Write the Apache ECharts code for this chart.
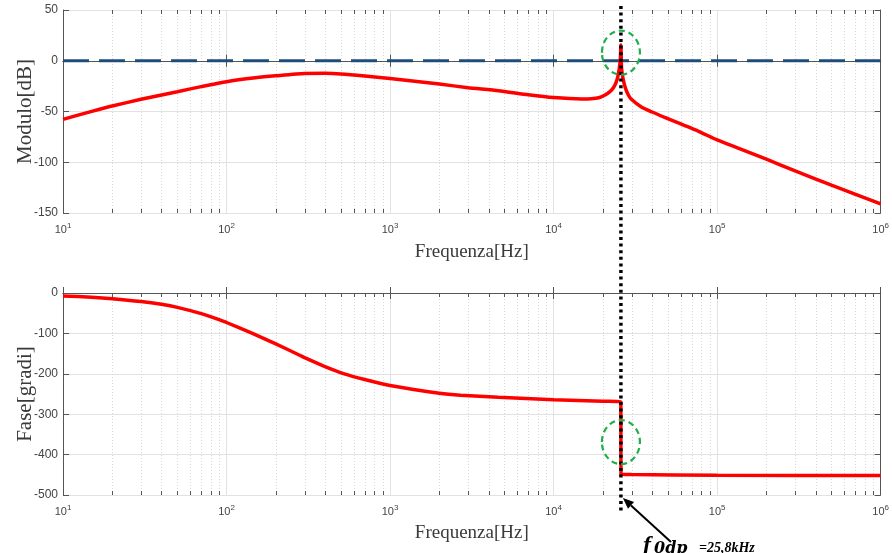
<!DOCTYPE html>
<html>
<head>
<meta charset="utf-8">
<script src="https://cdn.jsdelivr.net/npm/echarts@6/dist/echarts.min.js"></script>
<style>
html, body { margin: 0; padding: 0; background: #fff; }
#chart { width: 892px; height: 553px; }
</style>
</head>
<body>
<div id="chart"></div>
<script>
// modulo (dB)
var magFreq = [10, 15, 20, 30, 50, 70, 100, 150, 200, 300, 400, 500, 700, 1000, 2000, 3000, 4600, 7000, 10000, 14800, 17000, 18900, 20500, 21900, 23000, 23800, 24500, 24900, 25300, 25600, 25800, 26000, 26300, 26700, 27500, 28600, 29900, 34400, 40000, 48200, 77000, 100000, 132000, 200000, 300000, 500000, 1000000];
var magDb = [-57.7, -49.9, -44.6, -38, -30.5, -25.5, -20.6, -16.8, -14.8, -12.5, -12.4, -13, -15, -17.5, -23, -26.5, -29.5, -33.5, -36.3, -37.7, -37.5, -36.5, -34, -31, -27.5, -23.5, -18, -13, -6, 2, 15.5, -6, -13, -19, -27, -33.5, -38, -45.5, -50.5, -56, -69.5, -78, -85.6, -97, -108.5, -122.5, -141];

// fase (gradi)
var phaseFreq = [10, 15, 20, 30, 40, 50, 70, 90, 100, 144, 200, 280, 300, 400, 525, 700, 1000, 2000, 2700, 4600, 10000, 20000, 25750, 25850, 30000, 100000, 1000000];
var phaseDeg = [-7.4, -10.5, -14, -21, -28, -35.5, -51, -66, -73, -100, -126, -154, -160, -182, -200, -214, -229, -248, -253, -258, -264, -268, -269, -449, -449.5, -451, -452];

// 0 dB reference (dashed)
var refFreq = [10, 1000000];
var refDb = [0, 0];

var resonanceFreq = 25800;
var minorSteps = [2, 3, 4, 5, 6, 7, 8, 9];
var decades = [10, 100, 1000, 10000, 100000];

function pairs(xs, ys) {
    var out = [];
    for (var i = 0; i < xs.length; i++) out.push([xs[i], ys[i]]);
    return out;
}

var tickFont = 'Liberation Sans';
var titleFont = 'Liberation Serif';
var frameColor = '#555555';
var textColor = '#444444';

function logLabel(v) {
    return '10{sup|' + Math.round(Math.log(v) / Math.LN10) + '}';
}

function mainX(gridIndex, gap) {
    return {
        type: 'log', logBase: 10, gridIndex: gridIndex, min: 10, max: 1000000,
        position: 'bottom',
        name: 'Frequenza[Hz]', nameLocation: 'middle', nameGap: gap,
        nameTextStyle: { fontFamily: titleFont, fontSize: 19, color: '#3a3a3a' },
        axisLine: { show: true, lineStyle: { color: frameColor, width: 1 } },
        axisTick: { show: true, inside: true, length: 6, lineStyle: { color: frameColor } },
        axisLabel: {
            formatter: logLabel, margin: 9, color: textColor, fontFamily: tickFont, fontSize: 11,
            rich: { sup: { fontSize: 8, fontFamily: tickFont, color: textColor, padding: [0, 0, 7, 0] } }
        },
        splitLine: { show: true, lineStyle: { color: '#e2e2e2', width: 1 } }
    };
}
function topX(gridIndex) {
    return {
        type: 'log', logBase: 10, gridIndex: gridIndex, min: 10, max: 1000000, position: 'top',
        axisLine: { show: true, lineStyle: { color: frameColor, width: 1 } },
        axisTick: { show: true, inside: true, length: 6, lineStyle: { color: frameColor } },
        axisLabel: { show: false }, splitLine: { show: false }
    };
}
function mainY(gridIndex, name, min, max, interval) {
    return {
        type: 'value', gridIndex: gridIndex, min: min, max: max, interval: interval, position: 'left',
        name: name, nameLocation: 'middle', nameGap: 27, nameMoveOverlap: false,
        nameTextStyle: { fontFamily: titleFont, fontSize: 21, color: '#3a3a3a' },
        axisLine: { show: true, lineStyle: { color: frameColor, width: 1 } },
        axisTick: { show: true, inside: true, length: 6, lineStyle: { color: frameColor } },
        axisLabel: { margin: 5, color: textColor, fontFamily: tickFont, fontSize: 12 },
        splitLine: { show: true, lineStyle: { color: '#e2e2e2', width: 1 } }
    };
}
function rightY(gridIndex, min, max, interval) {
    return {
        type: 'value', gridIndex: gridIndex, min: min, max: max, interval: interval, position: 'right',
        axisLine: { show: true, lineStyle: { color: frameColor, width: 1 } },
        axisTick: { show: true, inside: true, length: 6, lineStyle: { color: frameColor } },
        axisLabel: { show: false }, splitLine: { show: false }
    };
}

var chart = echarts.init(document.getElementById('chart'), null, { renderer: 'canvas' });

chart.setOption({
    animation: false,
    backgroundColor: '#ffffff',
    grid: [
        { left: 63, top: 10, width: 820, height: 203, containLabel: false },
        { left: 63, top: 293, width: 820, height: 202, containLabel: false }
    ],
    xAxis: [mainX(0, 30), mainX(1, 29), topX(0), topX(1)],
    yAxis: [
        mainY(0, 'Modulo[dB]', -150, 50, 50),
        mainY(1, 'Fase[gradi]', -500, 0, 100),
        rightY(0, -150, 50, 50),
        rightY(1, -500, 0, 100)
    ],
    series: [
        {
            type: 'line', xAxisIndex: 0, yAxisIndex: 0, data: pairs(refFreq, refDb),
            symbol: 'none', silent: true,
            lineStyle: { color: '#1d4d78', width: 3, type: [26, 10] }
        },
        {
            type: 'line', xAxisIndex: 0, yAxisIndex: 0, data: pairs(magFreq, magDb),
            symbol: 'none', smooth: 0.2, silent: true,
            lineStyle: { color: '#ff0000', width: 3.5 }
        },
        {
            type: 'line', xAxisIndex: 1, yAxisIndex: 1, data: pairs(phaseFreq, phaseDeg),
            symbol: 'none', smooth: 0.2, silent: true,
            lineStyle: { color: '#ff0000', width: 3.5 }
        }
    ]
});

// annotations and minor log grid, placed through the axes' own scales
function px(seriesIndex, x, y) {
    return chart.convertToPixel({ seriesIndex: seriesIndex }, [x, y]);
}

var g = [];
var gridDefs = [{ s: 1, min: -150, max: 50 }, { s: 2, min: -500, max: 0 }];
gridDefs.forEach(function (gd) {
    decades.forEach(function (d) {
        minorSteps.forEach(function (k) {
            var top = px(gd.s, d * k, gd.max);
            var bot = px(gd.s, d * k, gd.min);
            var x = Math.round(top[0]) + 0.5;
            g.push({ type: 'line', z: 0, silent: true,
                shape: { x1: x, y1: top[1], x2: x, y2: bot[1] },
                style: { stroke: '#d9d9d9', lineWidth: 1, lineDash: [1, 2] } });
            g.push({ type: 'line', z: 5, silent: true,
                shape: { x1: x, y1: top[1], x2: x, y2: top[1] + 4 },
                style: { stroke: frameColor, lineWidth: 1 } });
            g.push({ type: 'line', z: 5, silent: true,
                shape: { x1: x, y1: bot[1], x2: x, y2: bot[1] - 4 },
                style: { stroke: frameColor, lineWidth: 1 } });
        });
    });
});

var resX = px(1, resonanceFreq, 0)[0];

// black dotted marker through both plots
g.push({ type: 'line', z: 50, silent: true,
    shape: { x1: resX, y1: 6, x2: resX, y2: 511 },
    style: { stroke: '#000000', lineWidth: 3.5, lineDash: [3, 3.6] } });

// green dashed circles
var c1 = px(1, resonanceFreq, 8);
var c2 = px(2, resonanceFreq, -369);
[c1, c2].forEach(function (c) {
    g.push({ type: 'ellipse', z: 60, silent: true,
        shape: { cx: c[0], cy: c[1], rx: 19, ry: 22 },
        style: { fill: 'none', stroke: '#1eaf4c', lineWidth: 2.2, lineDash: [6, 4] } });
});

// arrow to the marker
var tip = [resX + 2, 498];
var tail = [671, 542];
var ang = Math.atan2(tail[1] - tip[1], tail[0] - tip[0]);
var hl = 11, hw = 4.5;
var bx = tip[0] + Math.cos(ang) * hl, by = tip[1] + Math.sin(ang) * hl;
g.push({ type: 'line', z: 70, silent: true,
    shape: { x1: bx, y1: by, x2: tail[0], y2: tail[1] },
    style: { stroke: '#000000', lineWidth: 2 } });
g.push({ type: 'polygon', z: 70, silent: true,
    shape: { points: [tip,
        [bx - Math.sin(ang) * hw, by + Math.cos(ang) * hw],
        [bx + Math.sin(ang) * hw, by - Math.cos(ang) * hw]] },
    style: { fill: '#000000' } });

// label f_0dp = 25,8kHz
var labelBits = [
    { t: 'f', x: 643, y: 546, font: 'italic bold 24px "Liberation Serif"' },
    { t: '0dp', x: 654, y: 549, font: 'italic bold 16px "DejaVu Serif"' },
    { t: '=25,8kHz', x: 699, y: 548.5, font: 'italic bold 14px "Liberation Serif"' }
];
labelBits.forEach(function (b) {
    g.push({ type: 'text', z: 70, silent: true, x: b.x, y: b.y,
        style: { text: b.t, font: b.font, fill: '#000000', align: 'left', verticalAlign: 'middle' } });
});

chart.setOption({ graphic: { elements: g } });
</script>
</body>
</html>
